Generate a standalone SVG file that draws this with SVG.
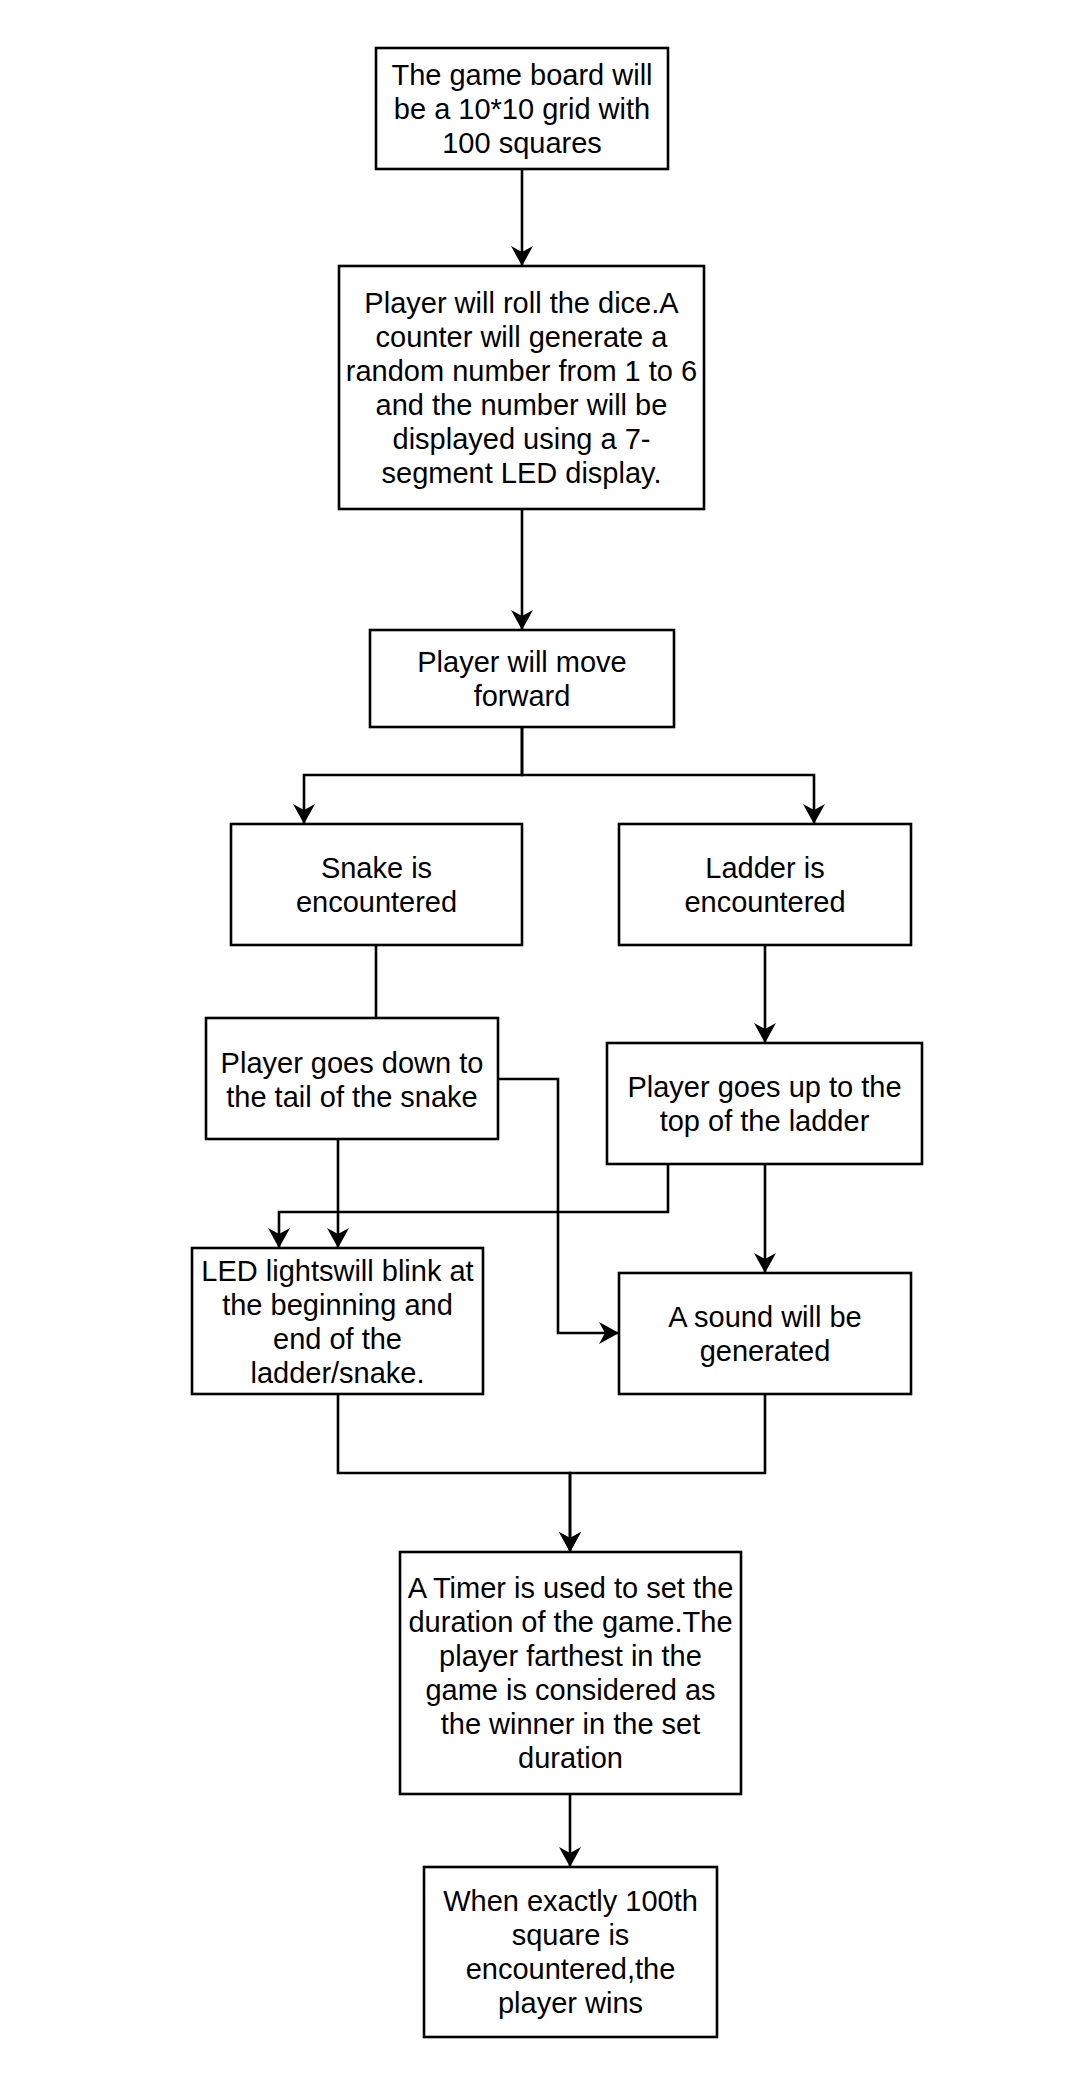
<svg xmlns="http://www.w3.org/2000/svg" width="1080" height="2084" viewBox="0 0 1080 2084">
<style>
.box{fill:#fff;stroke:#000;stroke-width:2.6}
.lbl{font-family:"Liberation Sans",Arial,Helvetica,sans-serif;font-size:29px;fill:#000;text-anchor:middle}
.edge{fill:none;stroke:#000;stroke-width:2.6}
.arr{marker-end:url(#ah)}
</style>
<defs>
<marker id="ah" viewBox="0 0 20 22" refX="20" refY="11" markerWidth="20" markerHeight="22" markerUnits="userSpaceOnUse" orient="auto">
<path d="M20,11 L0,0 L6,11 L0,22 Z" fill="#000"/>
</marker>
</defs>
<rect width="1080" height="2084" fill="#fff"/>
<g id="connectors">
<path class="edge arr" d="M522,169 V266"/>
<path class="edge arr" d="M522,509 V630"/>
<path class="edge arr" d="M522,727 V775 H304 V824"/>
<path class="edge arr" d="M522,727 V775 H814 V824"/>
<path class="edge" d="M376,945 V1018"/>
<path class="edge arr" d="M765,945 V1043"/>
<path class="edge arr" d="M498,1079 H558 V1333 H619"/>
<path class="edge arr" d="M338,1139 V1248"/>
<path class="edge arr" d="M668,1164 V1212 H279 V1248"/>
<path class="edge arr" d="M765,1164 V1273"/>
<path class="edge arr" d="M338,1394 V1473 H570 V1552"/>
<path class="edge arr" d="M765,1394 V1473 H570 V1552"/>
<path class="edge arr" d="M570,1794 V1867"/>
</g>
<g id="n1">
<rect class="box" x="376" y="48" width="292" height="121"/>
<text class="lbl"><tspan x="522" y="85">The game board will</tspan><tspan x="522" y="119">be a 10*10 grid with</tspan><tspan x="522" y="153">100 squares</tspan></text>
</g>
<g id="n2">
<rect class="box" x="339" y="266" width="365" height="243"/>
<text class="lbl"><tspan x="521.5" y="313">Player will roll the dice.A</tspan><tspan x="521.5" y="347">counter will generate a</tspan><tspan x="521.5" y="381">random number from 1 to 6</tspan><tspan x="521.5" y="415">and the number will be</tspan><tspan x="521.5" y="449">displayed using a 7-</tspan><tspan x="521.5" y="483">segment LED display.</tspan></text>
</g>
<g id="n3">
<rect class="box" x="370" y="630" width="304" height="97"/>
<text class="lbl"><tspan x="522" y="672">Player will move</tspan><tspan x="522" y="706">forward</tspan></text>
</g>
<g id="n4">
<rect class="box" x="231" y="824" width="291" height="121"/>
<text class="lbl"><tspan x="376.5" y="878">Snake is</tspan><tspan x="376.5" y="912">encountered</tspan></text>
</g>
<g id="n5">
<rect class="box" x="619" y="824" width="292" height="121"/>
<text class="lbl"><tspan x="765" y="878">Ladder is</tspan><tspan x="765" y="912">encountered</tspan></text>
</g>
<g id="n6">
<rect class="box" x="206" y="1018" width="292" height="121"/>
<text class="lbl"><tspan x="352" y="1073">Player goes down to</tspan><tspan x="352" y="1107">the tail of the snake</tspan></text>
</g>
<g id="n7">
<rect class="box" x="607" y="1043" width="315" height="121"/>
<text class="lbl"><tspan x="764.5" y="1097">Player goes up to the</tspan><tspan x="764.5" y="1131">top of the ladder</tspan></text>
</g>
<g id="n8">
<rect class="box" x="192" y="1248" width="291" height="146"/>
<text class="lbl"><tspan x="337.5" y="1281">LED lightswill blink at</tspan><tspan x="337.5" y="1315">the beginning and</tspan><tspan x="337.5" y="1349">end of the</tspan><tspan x="337.5" y="1383">ladder/snake.</tspan></text>
</g>
<g id="n9">
<rect class="box" x="619" y="1273" width="292" height="121"/>
<text class="lbl"><tspan x="765" y="1327">A sound will be</tspan><tspan x="765" y="1361">generated</tspan></text>
</g>
<g id="n10">
<rect class="box" x="400" y="1552" width="341" height="242"/>
<text class="lbl"><tspan x="570.5" y="1598">A Timer is used to set the</tspan><tspan x="570.5" y="1632">duration of the game.The</tspan><tspan x="570.5" y="1666">player farthest in the</tspan><tspan x="570.5" y="1700">game is considered as</tspan><tspan x="570.5" y="1734">the winner in the set</tspan><tspan x="570.5" y="1768">duration</tspan></text>
</g>
<g id="n11">
<rect class="box" x="424" y="1867" width="293" height="170"/>
<text class="lbl"><tspan x="570.5" y="1911">When exactly 100th</tspan><tspan x="570.5" y="1945">square is</tspan><tspan x="570.5" y="1979">encountered,the</tspan><tspan x="570.5" y="2013">player wins</tspan></text>
</g>
</svg>
